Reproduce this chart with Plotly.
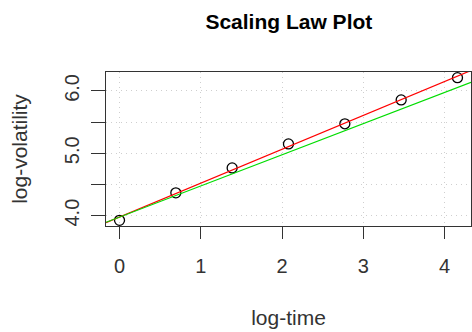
import numpy as np
import plotly.graph_objects as go

# data
log_time = [0.0, 0.693, 1.386, 2.079, 2.773, 3.466, 4.159]
log_vol = [3.925, 4.366, 4.765, 5.150, 5.473, 5.856, 6.212]
x_ticks = [0, 1, 2, 3, 4]
y_ticks = [4.0, 4.5, 5.0, 5.5, 6.0]
y_ticktext = ["4.0", "", "5.0", "", "6.0"]
brownian_slope = 0.5

slope, intercept = np.polyfit(log_time, log_vol, 1)

def ext(vals):
    lo, hi = min(vals), max(vals)
    d = (hi - lo) * 0.04
    return [lo - d, hi + d]

xr = ext(log_time)
yr = ext(log_vol)
xl = np.array(xr)

fig = go.Figure()
fig.add_trace(go.Scatter(x=log_time, y=log_vol, mode="markers",
                         marker=dict(symbol="circle-open", size=10,
                                     color="black", line=dict(width=1.3)),
                         showlegend=False, cliponaxis=False))
fig.add_trace(go.Scatter(x=xl, y=intercept + slope * xl, mode="lines",
                         line=dict(color="#FF0000", width=1.2), showlegend=False))
fig.add_trace(go.Scatter(x=xl, y=intercept + brownian_slope * xl, mode="lines",
                         line=dict(color="#00DD00", width=1.2), showlegend=False))

fam = "Liberation Sans, Arial, sans-serif"
fig.update_layout(
    width=472, height=332,
    margin=dict(l=106, r=1, t=72, b=106),
    paper_bgcolor="white", plot_bgcolor="white",
    font=dict(family=fam, size=20, color="#333333"),
    title=dict(text="<b>Scaling Law Plot</b>", x=0.612, xanchor="center",
               y=1 - 22 / 332, yanchor="middle",
               font=dict(family=fam, size=21, color="black")),
)
fig.update_xaxes(range=xr, tickvals=x_ticks, ticktext=[str(v) for v in x_ticks],
                 ticks="outside", ticklen=12, tickcolor="#333333", tickwidth=1,
                 showline=True, linecolor="#333333", linewidth=1, mirror=True,
                 showgrid=True, gridcolor="#CFCFCF", griddash="1px,4px", gridwidth=1,
                 zeroline=False, ticklabelstandoff=10,
                 title=dict(text="log-time", standoff=34, font=dict(size=21)))
fig.update_yaxes(range=yr, tickvals=y_ticks, ticktext=y_ticktext,
                 ticks="outside", ticklen=14, tickcolor="#333333", tickwidth=1,
                 tickangle=-90,
                 showline=True, linecolor="#333333", linewidth=1, mirror=True,
                 showgrid=True, gridcolor="#CFCFCF", griddash="1px,4px", gridwidth=1,
                 zeroline=False, ticklabelstandoff=4,
                 title=dict(text="log-volatility", standoff=27, font=dict(size=21)))

fig.write_html("out.html")
